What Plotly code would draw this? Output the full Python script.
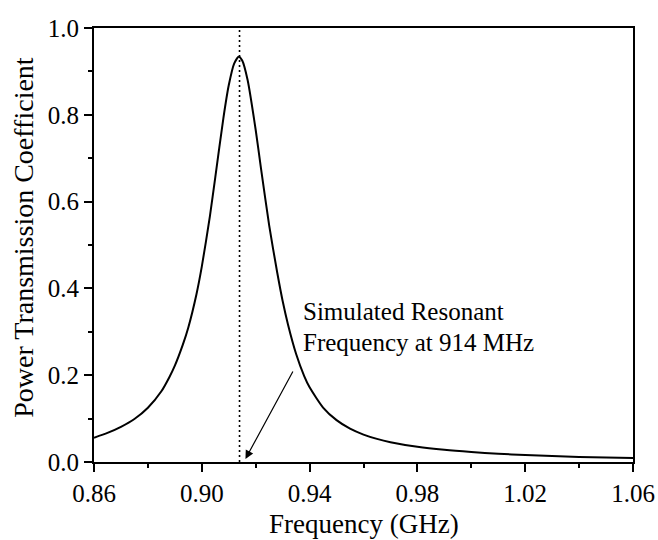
import plotly.graph_objects as go

freq_ghz = [0.860, 0.865, 0.870, 0.875, 0.880, 0.885, 0.888, 0.890, 0.893, 0.895,
            0.898, 0.900, 0.903, 0.905, 0.908, 0.910, 0.912, 0.9137, 0.915, 0.917,
            0.920, 0.922, 0.925, 0.928, 0.930, 0.932, 0.935, 0.938, 0.940, 0.945,
            0.950, 0.955, 0.960, 0.965, 0.970, 0.980, 0.990, 1.000, 1.010, 1.020,
            1.030, 1.040, 1.050, 1.060]
transmission = [0.056, 0.067, 0.081, 0.099, 0.125, 0.163, 0.196, 0.222, 0.271, 0.310,
                0.386, 0.450, 0.566, 0.656, 0.792, 0.868, 0.918, 0.934, 0.925, 0.880,
                0.765, 0.675, 0.545, 0.436, 0.371, 0.3165, 0.249, 0.198, 0.172, 0.1255,
                0.0964, 0.0768, 0.0632, 0.0532, 0.0456, 0.0350, 0.0280, 0.0230, 0.0191, 0.0161,
                0.0138, 0.0118, 0.0103, 0.0090]
resonant_freq = 0.914
y_ticks = [0.0, 0.2, 0.4, 0.6, 0.8, 1.0]
x_ticks = [0.86, 0.90, 0.94, 0.98, 1.02, 1.06]
annotation_lines = ["Simulated Resonant", "Frequency at 914 MHz"]
x_title = "Frequency (GHz)"
y_title = "Power Transmission Coefficient"
arrow_tail = (0.9341, 0.212)
arrow_head = (0.9162, 0.007)

FONT = "Liberation Serif, Times New Roman, serif"
TICK_SIZE = 25
TITLE_SIZE = 27

fig = go.Figure()
fig.add_trace(go.Scatter(x=freq_ghz, y=transmission, mode="lines",
                         line=dict(color="black", width=2, shape="spline", smoothing=0.6),
                         showlegend=False, hoverinfo="skip"))
fig.add_trace(go.Scatter(x=[resonant_freq, resonant_freq], y=[0, 1], mode="lines",
                         line=dict(color="black", width=1.6, dash="2px,3px"),
                         showlegend=False, hoverinfo="skip"))

fig.add_annotation(x=arrow_head[0], y=arrow_head[1], ax=arrow_tail[0], ay=arrow_tail[1],
                   xref="x", yref="y", axref="x", ayref="y", text="",
                   showarrow=True, arrowhead=2, arrowsize=1.4, arrowwidth=1.2,
                   arrowcolor="black")
for line_text, yv in zip(annotation_lines, [0.346, 0.276]):
    fig.add_annotation(x=0.9369, y=yv, xref="x", yref="y", text=line_text,
                       showarrow=False, xanchor="left", yanchor="middle", align="left",
                       font=dict(family=FONT, size=TICK_SIZE, color="black"))

fig.add_annotation(x=0.5, y=-0.142, xref="paper", yref="paper", text=x_title,
                   showarrow=False, xanchor="center", yanchor="middle",
                   font=dict(family=FONT, size=TITLE_SIZE, color="black"))
fig.add_annotation(x=-0.1307, y=0.518, xref="paper", yref="paper", text=y_title,
                   showarrow=False, xanchor="center", yanchor="middle", textangle=-90,
                   font=dict(family=FONT, size=28, color="black"))

axis_common = dict(showline=True, linecolor="black", linewidth=1.8, mirror=True,
                   ticks="outside", ticklen=8, tickwidth=1.5, tickcolor="black",
                   showgrid=False, zeroline=False, automargin=False,
                   tickfont=dict(family=FONT, size=TICK_SIZE, color="black"))

fig.update_xaxes(range=[0.86, 1.06], tickvals=x_ticks,
                 ticktext=[f"{v:.2f}" for v in x_ticks],
                 minor=dict(ticks="outside", ticklen=4, tickwidth=1.5, tickcolor="black", dtick=0.02, tick0=0.86),
                 **axis_common)
fig.update_yaxes(range=[0, 1], tickvals=y_ticks,
                 ticktext=[f"{v:.1f}" for v in y_ticks],
                 minor=dict(ticks="outside", ticklen=4, tickwidth=1.5, tickcolor="black", dtick=0.1, tick0=0),
                 **axis_common)

fig.update_layout(width=658, height=540, margin=dict(l=93.5, r=25.3, t=28, b=78),
                  paper_bgcolor="white", plot_bgcolor="white")

fig.write_html("out.html")
